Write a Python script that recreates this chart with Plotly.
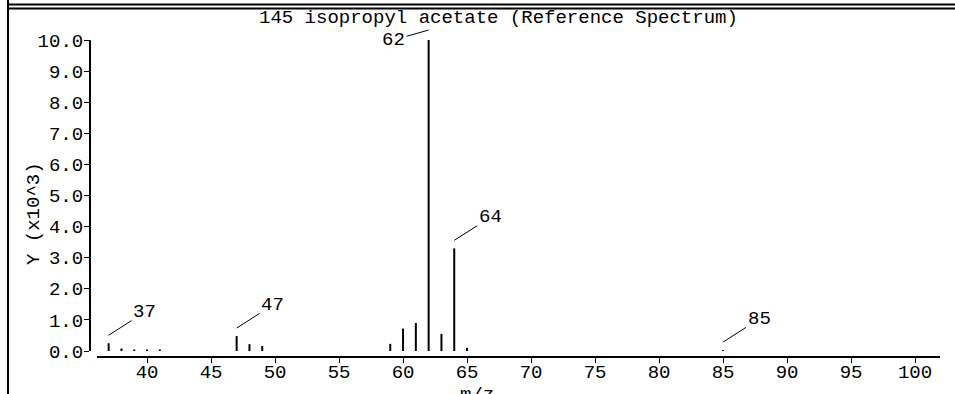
import plotly.graph_objects as go

# ---- data ----
mz = [37, 38, 39, 40, 41, 47, 48, 49, 59, 60, 61, 62, 63, 64, 65, 85]
intensity = [0.25, 0.08, 0.05, 0.05, 0.05, 0.48, 0.22, 0.16, 0.23, 0.72, 0.90, 10.0, 0.55, 3.30, 0.10, 0.03]
labeled_mz = [37, 47, 62, 64, 85]
x_ticks = [40, 45, 50, 55, 60, 65, 70, 75, 80, 85, 90, 95, 100]
y_ticks = [0, 1, 2, 3, 4, 5, 6, 7, 8, 9, 10]
title_text = "145 isopropyl acetate (Reference Spectrum)"
y_title = "Y (x10^3)"
x_title = "m/z"

# ---- geometry helpers (pixel -> paper) ----
W, H = 955, 394
L, R, T, B = 90, 940, 40, 357
def px(x):
    return (x - L) / (R - L)
def py(y):
    return (B - y) / (B - T)

FONT = "Liberation Mono"
FS = 19

xs, ys = [], []
for m, v in zip(mz, intensity):
    xs += [m, m, None]
    ys += [0, v, None]

fig = go.Figure()
fig.add_trace(go.Scatter(x=xs, y=ys, mode="lines",
                         line=dict(color="black", width=2),
                         hoverinfo="skip", showlegend=False))

annotations = []
lookup = dict(zip(mz, intensity))
for m in labeled_mz:
    v = lookup[m]
    if v >= max(intensity):
        ax, ay, ys_ = -35, 10, 10
    else:
        ax, ay, ys_ = 36, -23, 8
    annotations.append(dict(
        x=m, y=v, xref="x", yref="y", text=str(m),
        showarrow=True, arrowhead=0, arrowwidth=1, arrowcolor="black",
        ax=ax, ay=ay, yshift=ys_,
        font=dict(family=FONT, size=FS, color="black")))

annotations.append(dict(x=px(21), y=py(214), xref="paper", yref="paper",
                        text=y_title, textangle=-90, showarrow=False,
                        font=dict(family=FONT, size=FS, color="black")))
annotations.append(dict(x=px(477), y=py(382), xref="paper", yref="paper",
                        yanchor="top", text=x_title, showarrow=False,
                        font=dict(family=FONT, size=FS, color="black")))
annotations.append(dict(x=px(481), y=py(8.5), xref="paper", yref="paper",
                        yanchor="bottom", text=x_title, showarrow=False,
                        font=dict(family=FONT, size=FS, color="black")))
annotations.append(dict(x=px(498), y=py(17.5), xref="paper", yref="paper",
                        yanchor="middle", text=title_text, showarrow=False,
                        font=dict(family=FONT, size=FS, color="black")))

shapes = [
    dict(type="line", xref="paper", yref="paper", x0=px(8), x1=px(960),
         y0=py(4.5), y1=py(4.5), line=dict(color="black", width=2)),
    dict(type="line", xref="paper", yref="paper", x0=px(8), x1=px(960),
         y0=py(8.5), y1=py(8.5), line=dict(color="black", width=2)),
    dict(type="line", xref="paper", yref="paper", x0=px(8), x1=px(8),
         y0=py(-5), y1=py(400), line=dict(color="black", width=2)),
]

fig.update_layout(
    template="none",
    width=W, height=H,
    margin=dict(l=L, r=W - R, t=T, b=H - B, pad=0, autoexpand=False),
    paper_bgcolor="white", plot_bgcolor="white",
    showlegend=False,
    font=dict(family=FONT, size=FS, color="black"),
    xaxis=dict(range=[36.09, 101.95], domain=[px(97), 1],
               anchor="free", position=0, automargin=False,
               tickmode="array", tickvals=x_ticks,
               ticks="outside", ticklen=5, tickwidth=1, tickcolor="black",
               ticklabelstandoff=-8,
               showline=True, linecolor="black", linewidth=2,
               showgrid=False, zeroline=False,
               tickfont=dict(family=FONT, size=FS, color="black")),
    yaxis=dict(range=[0, 10], domain=[py(351), 1],
               anchor="free", position=0, automargin=False,
               tickmode="array", tickvals=y_ticks, tickformat=".1f",
               ticks="outside", ticklen=5, tickwidth=1, tickcolor="black",
               ticklabelstandoff=-3,
               showline=True, linecolor="black", linewidth=2,
               showgrid=False, zeroline=False,
               tickfont=dict(family=FONT, size=FS, color="black")),
    annotations=annotations,
    shapes=shapes,
)

fig.write_html("out.html",
               config={"displayModeBar": False},
               post_script="document.body.style.margin='0';document.body.style.overflow='hidden';")
